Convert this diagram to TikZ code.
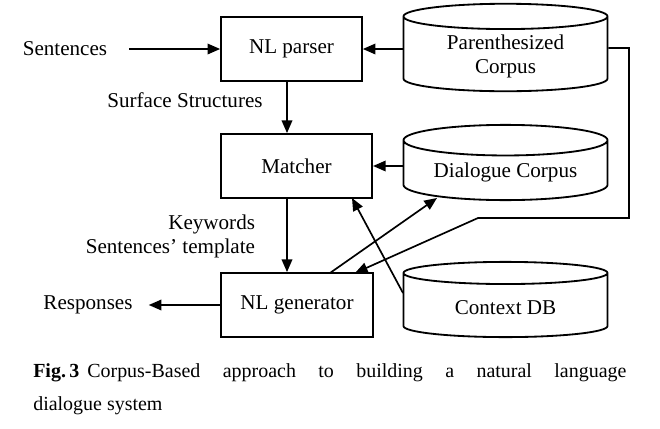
\documentclass[tikz,border=0pt]{standalone}
\usepackage{fontspec}
\setmainfont{Liberation Serif}
\usetikzlibrary{arrows.meta,shapes.geometric,calc}

\begin{document}
\begin{tikzpicture}[
    x=0.025cm, y=-0.025cm,
    font=\fontsize{15}{17}\selectfont,
    >={Triangle[length=9pt,width=7.5pt]},
    arrow/.style={->, line width=1.2pt},
    box/.style={
        draw,
        line width=1.3pt,
        align=center,
        minimum height=1.6cm,
        minimum width=3.55cm
    },
    dbase/.style={
        draw,
        cylinder,
        shape border rotate=90,
        shape aspect=0.2,
        anchor=shape center,
        line width=1.3pt,
        align=center,
        minimum width=5.1cm
    }
]
\useasboundingbox (0,0) rectangle (660,429);

% Processing stages
\node[box, minimum width=3.52cm] (parser) at (291.5,49) {NL parser};
\node[box, minimum width=3.78cm] (matcher) at (296.5,166) {Matcher};
\node[box, minimum width=3.8cm] (generator) at (297,305) {NL generator};

% Data stores
\node[dbase, minimum height=2.12cm] (pcorpus) at (505.5,47.5) {Parenthesized\\Corpus};
\node[dbase, minimum height=1.88cm] (dcorpus) at (505.5,162.5) {Dialogue Corpus};
\node[dbase, minimum height=1.88cm] (context) at (505.5,299.5) {Context DB};

% Inputs and outputs
\node (sentences) at (65,49) {Sentences};
\node (responses) at (88,305) {Responses};

% Main arrows
\coordinate (spine) at (287,0);
\draw[arrow, shorten <=12pt] (sentences.east) -- (parser.west);
\draw[arrow] (spine |- parser.south) -- (spine |- matcher.north);
\draw[arrow] (pcorpus.west |- parser) -- (parser.east);
\draw[arrow] (dcorpus.west |- matcher) -- (matcher.east);
\draw[arrow] (spine |- matcher.south) -- (spine |- generator.north);
\draw[arrow, shorten >=8pt] (generator.west) -- (responses.east);

% Labels on the vertical arrows
\node (surface) at (185,100) {Surface Structures};
\node[align=right, anchor=east] (keywords) at (260,236) {Keywords\\Sentences' template};

% Crossing arrows between generator and data stores
\coordinate (genout) at (330,273);
\coordinate (dcin) at (437,198);
\draw[arrow] (genout) -- (dcin);

\coordinate (ctxout) at (403,293);
\coordinate (matin) at (352,198);
\draw[arrow] (ctxout) -- (matin);

% Feedback from the parenthesized corpus
\coordinate (fbright) at (629,48);
\coordinate (fbbend) at (478,218);
\coordinate (genin) at (355,273);
\draw[arrow]
    (pcorpus.east |- fbright)
    -- (fbright)
    |- (fbbend)
    -- (genin);

% Caption
\node[anchor=north west, align=justify, text width=14.825cm, inner sep=0pt,
      font=\fontsize{14.2}{23.4}\selectfont] (caption) at (33,363)
    {\mbox{\textbf{Fig.\,3}}\hspace{0.4em}Corpus-Based approach to building a natural language\linebreak
    dialogue system};

\end{tikzpicture}
\end{document}
